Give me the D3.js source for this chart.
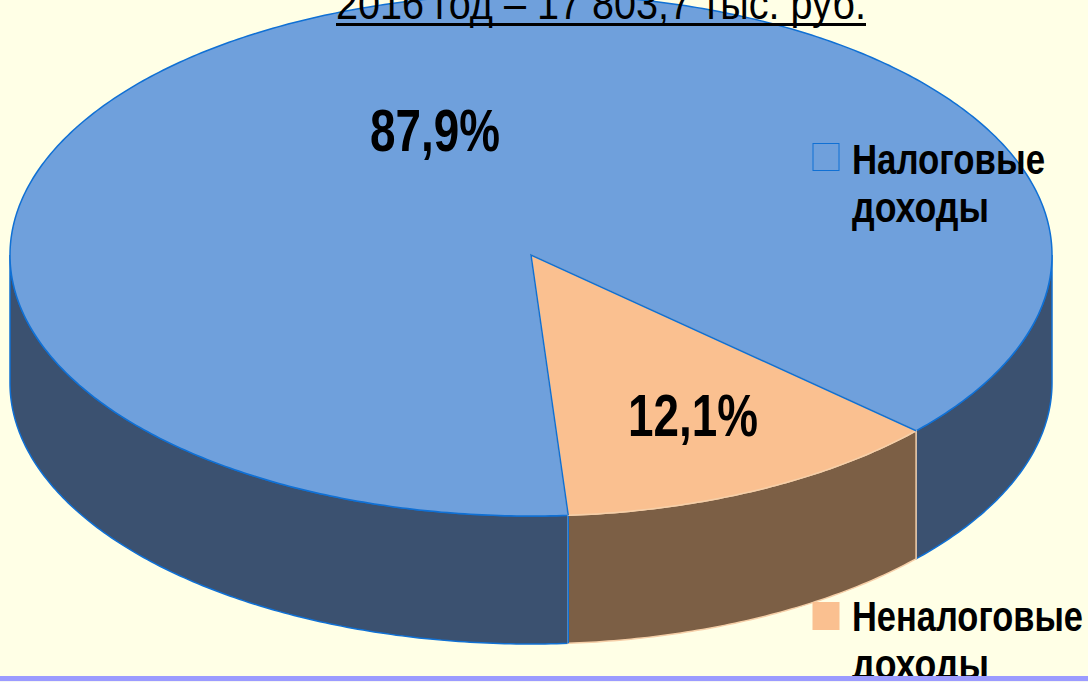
<!doctype html>
<html>
<head>
<meta charset="utf-8">
<style>
    html, body { margin: 0; padding: 0; background: #ffffe6; overflow: hidden; }
    svg { display: block; }
    text { font-family: "Liberation Sans", sans-serif; fill: #000; }
</style>
<script src="https://d3js.org/d3.v7.min.js"></script>
</head>
<body>
<script>
    var categories = ["Налоговые доходы", "Неналоговые доходы"];
    var shares = [87.9, 12.1];
    var shareLabels = ["87,9%", "12,1%"];
    var titleText = "2016 год – 17 803,7 тыс. руб.";

    var canvasWidth = 1088;
    var canvasHeight = 682;
    var cx = 531, cy = 255, rx = 521, ry = 261, depth = 128;
    var topColors = ["#6fa0dc", "#fac090"];
    var wallColors = ["#3b5170", "#7c5f45"];
    var strokeColors = ["#1070d4", "#f6cfa8"];
    var firstAngle = 175.9 * Math.PI / 180;

    var svg = d3.select("body").append("svg")
        .attr("width", canvasWidth)
        .attr("height", canvasHeight);

    var pie = d3.pie().sort(null)
        .startAngle(firstAngle)
        .endAngle(firstAngle + 2 * Math.PI);
    var slices = pie(shares);

    // squashed circle: radius 1 scaled to rx, ry
    var xScale = d3.scaleLinear().domain([-1, 1]).range([cx - rx, cx + rx]);
    var yScale = d3.scaleLinear().domain([-1, 1]).range([cy - ry, cy + ry]);
    var px = function(a) { return xScale(Math.sin(a)); };
    var py = function(a) { return yScale(-Math.cos(a)); };
    var line = d3.line();

    function arcPoints(a0, a1) {
        var n = Math.max(2, Math.ceil((a1 - a0) * 90));
        return d3.range(n + 1).map(function(i) {
            var a = a0 + (a1 - a0) * i / n;
            return [px(a), py(a)];
        });
    }

    // front wall is only visible between 90 and 270 degrees
    var frontStart = Math.PI / 2, frontEnd = 3 * Math.PI / 2;
    function wallParts(d) {
        var parts = [];
        [-2 * Math.PI, 0, 2 * Math.PI].forEach(function(shift) {
            var a0 = Math.max(d.startAngle + shift, frontStart);
            var a1 = Math.min(d.endAngle + shift, frontEnd);
            if (a1 > a0) parts.push([a0, a1]);
        });
        return parts;
    }

    slices.forEach(function(d, i) {
        wallParts(d).forEach(function(part) {
            var upper = arcPoints(part[0], part[1]);
            var lower = upper.slice().reverse().map(function(p) { return [p[0], p[1] + depth]; });
            svg.append("path")
                .attr("d", line(upper.concat(lower)) + "Z")
                .attr("fill", wallColors[i])
                .attr("stroke", strokeColors[i])
                .attr("stroke-width", 1.5);
        });
    });

    // blue edge where the big slice wall meets the brown one
    var seam = slices[1].endAngle;
    svg.append("path")
        .attr("d", line([[px(seam), py(seam)], [px(seam), py(seam) + depth]]))
        .attr("stroke", strokeColors[0])
        .attr("stroke-width", 1.5);

    svg.selectAll(".slice")
        .data(slices)
        .enter().append("path")
        .attr("class", "slice")
        .attr("d", function(d) {
            return line([[cx, cy]].concat(arcPoints(d.startAngle, d.endAngle))) + "Z";
        })
        .attr("fill", function(d, i) { return topColors[i]; })
        .attr("stroke", function(d, i) { return strokeColors[i]; })
        .attr("stroke-width", 1.5)
        .attr("stroke-linejoin", "round");

    // shared edge stays blue
    svg.append("path")
        .attr("d", line([[px(slices[1].startAngle), py(slices[1].startAngle)], [cx, cy], [px(slices[1].endAngle), py(slices[1].endAngle)]]))
        .attr("fill", "none")
        .attr("stroke", strokeColors[0])
        .attr("stroke-width", 1.5);

    // Liberation Sans Narrow is not there, so the glyphs get squeezed to the original widths
    svg.append("text")
        .attr("x", 336).attr("y", 19)
        .attr("font-size", 44)
        .attr("textLength", 530)
        .attr("lengthAdjust", "spacingAndGlyphs")
        .text(titleText);
    svg.append("rect")
        .attr("x", 336).attr("y", 23)
        .attr("width", 530).attr("height", 3)
        .attr("fill", "#000");

    var labelX = [370, 628], labelY = [151, 436], labelW = 130;
    svg.selectAll(".share")
        .data(shareLabels)
        .enter().append("text")
        .attr("class", "share")
        .attr("x", function(d, i) { return labelX[i]; })
        .attr("y", function(d, i) { return labelY[i]; })
        .attr("font-size", 60)
        .attr("font-weight", "bold")
        .attr("textLength", labelW)
        .attr("lengthAdjust", "spacingAndGlyphs")
        .text(function(d) { return d; });

    // legend, names wrap over two lines
    var legendY = [143, 602];
    var legendBase = [174, 631];
    var wordWidths = [[193, 137], [231, 137]];
    categories.forEach(function(name, i) {
        var words = name.split(" ");
        svg.append("rect")
            .attr("x", 813).attr("y", legendY[i] + 0.5)
            .attr("width", 26).attr("height", 27)
            .attr("fill", topColors[i])
            .attr("stroke", i == 0 ? strokeColors[0] : topColors[i])
            .attr("stroke-width", 1);
        words.forEach(function(w, j) {
            svg.append("text")
                .attr("x", 852)
                .attr("y", legendBase[i] + j * 48)
                .attr("font-size", 42)
                .attr("font-weight", "bold")
                .attr("textLength", wordWidths[i][j])
                .attr("lengthAdjust", "spacingAndGlyphs")
                .text(w);
        });
    });

    // strip at the bottom of the slide
    svg.append("rect")
        .attr("x", 0).attr("y", 676)
        .attr("width", canvasWidth).attr("height", 5)
        .attr("fill", "#9b9bff");
    svg.append("rect")
        .attr("x", 0).attr("y", 681)
        .attr("width", canvasWidth).attr("height", 1)
        .attr("fill", "#f4f4f4");
</script>
</body>
</html>
